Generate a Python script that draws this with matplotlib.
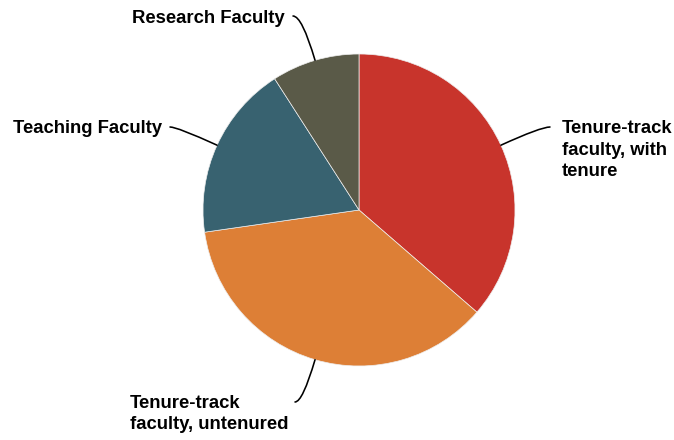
import numpy as np
from matplotlib import pyplot as plt

labels = ['Tenure-track\nfaculty, with\ntenure', 'Tenure-track\nfaculty, untenured',
          'Teaching Faculty', 'Research Faculty']
values = [40, 40, 20, 10]
colors = ['#c8342c', '#dd7f36', '#386270', '#5a5a48']

plt.rcParams['font.family'] = ['Liberation Sans', 'DejaVu Sans']

# pixel layout of the reference: centre (359, 210), radius 156
cx, cy, R = 359., 210., 156.
W, H = 674, 440


def px(x, y):
  return (x - cx) / R, (cy - y) / R


f = plt.figure(figsize=[W / 100., H / 100.], dpi=100)
ax = f.add_axes([0, 0, 1, 1])
wedges, _ = ax.pie(values, colors=colors, startangle=90, counterclock=False,
                   radius=1, wedgeprops=dict(edgecolor='#eeeeee', linewidth=0.5))
ax.set_xlim(-cx / R, (W - cx) / R)
ax.set_ylim(-(H - cy) / R, cy / R)
ax.set_aspect('equal')
ax.axis('off')

# text anchor (px), ha, connector start (px)
lbl = [((562, 150), 'left', (550, 127)),
       ((130, 414), 'left', (295, 402)),
       ((162, 128), 'right', (170, 127)),
       ((285, 18), 'right', (293, 16))]

for w, txt, (tp, ha, cs) in zip(wedges, labels, lbl):
  th = 0.5 * (w.theta1 + w.theta2)
  end = (np.cos(np.radians(th)), np.sin(np.radians(th)))
  ax.text(*px(*tp), txt, ha=ha, va='center', fontsize=13.3, fontweight='bold',
          linespacing=1.38, color='black')
  ax.annotate('', xy=end, xytext=px(*cs),
              arrowprops=dict(arrowstyle='-', color='black', lw=1.15,
                              shrinkA=0, shrinkB=0,
                              connectionstyle='angle3,angleA=0,angleB=%f' % th))

plt.savefig('out.png', dpi=100)
